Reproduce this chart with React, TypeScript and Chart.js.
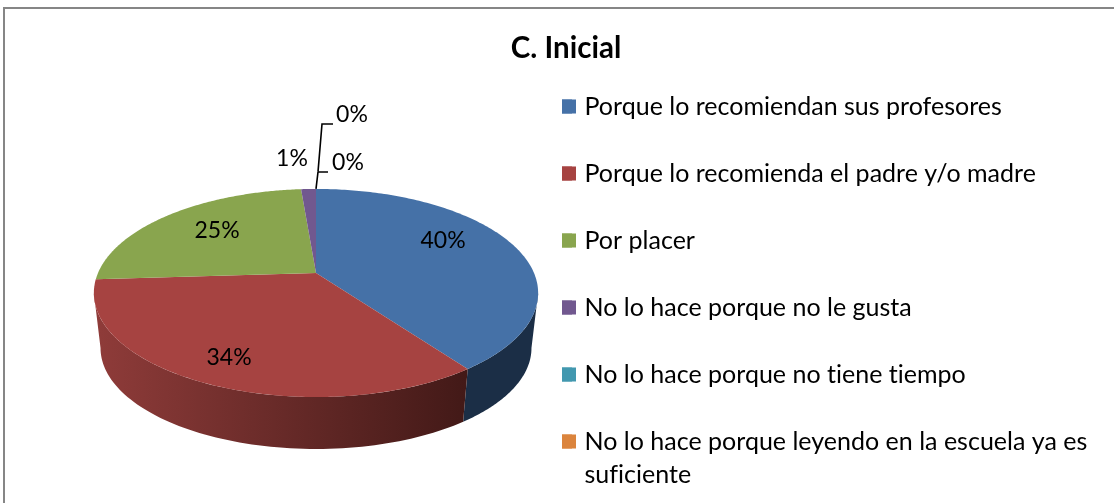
import React, { useEffect, useRef } from "react";
import { Chart, registerables } from "chart.js";

Chart.register(...registerables);

const chartTitle = "C. Inicial";
const categories = [
  "Porque lo recomiendan sus profesores",
  "Porque lo recomienda el padre y/o madre",
  "Por placer",
  "No lo hace porque no le gusta",
  "No lo hace porque no tiene tiempo",
  ["No lo hace porque leyendo en la escuela ya es", "suficiente"],
];
const values = [40, 34, 24.7, 1.3, 0, 0];
const valueLabels = ["40%", "34%", "25%", "1%", "0%", "0%"];
const topColors = ["#4571A7", "#A64341", "#89A54E", "#71588F", "#4298AF", "#DB843D"];
const FONT = "Lato, Carlito, Calibri, sans-serif";

// Perspective of the tilted disc
const CX = 316;
const CY = 273;
const KX = 218;
const KY = 100.2;
const PERSP = 0.192;
const WALL_SCALE = 0.97;
const WALL_CENTER_FROM = 293;
const WALL_CENTER_TO = 348.1;
const SILHOUETTE_ANGLE = 0.193;

const project = (angle: number, r = 1) => {
  // Chart.js angle: -PI/2 is the top of the pie
  const u = Math.cos(angle) * r;
  const v = Math.sin(angle) * r;
  const d = 1 - PERSP * v;
  return { x: CX + (KX * u) / d, y: CY + (KY * v) / d };
};
const lower = (p: { x: number; y: number }) => ({
  x: CX + WALL_SCALE * (p.x - CX),
  y: WALL_CENTER_TO + WALL_SCALE * (p.y - WALL_CENTER_FROM),
});

const disc3d = {
  id: "disc3d",
  afterLayout(chart: any) {
    const legend = chart.legend;
    const w = legend.right - legend.left;
    legend.left = 520;
    legend.right = 520 + w;
    legend.top = 52;
    legend.bottom = 500;
    const t = chart.titleBlock;
    const h = t.bottom - t.top;
    t.left = 0;
    t.right = 1132;
    t.top = 30.3;
    t.bottom = 30.3 + h;
  },
  beforeDatasetDraw(chart: any) {
    const ctx = chart.ctx;
    const arcs = chart.getDatasetMeta(0).data;
    const wallFill = (i: number) => {
      if (i === 0) return "#1B2E46";
      const g = ctx.createLinearGradient(100, 0, 470, 0);
      g.addColorStop(0, "#8E3B39");
      g.addColorStop(0.5, "#672A28");
      g.addColorStop(1, "#421917");
      return g;
    };
    // side wall, only the front half of the disc shows it
    arcs.forEach((arc: any, i: number) => {
      const a0 = Math.max(arc.startAngle, SILHOUETTE_ANGLE);
      const a1 = Math.min(arc.endAngle, Math.PI - SILHOUETTE_ANGLE);
      if (a1 <= a0) return;
      const N = 80;
      ctx.beginPath();
      for (let k = 0; k <= N; k++) {
        const p = project(a0 + ((a1 - a0) * k) / N);
        k ? ctx.lineTo(p.x, p.y) : ctx.moveTo(p.x, p.y);
      }
      for (let k = N; k >= 0; k--) {
        const p = lower(project(a0 + ((a1 - a0) * k) / N));
        ctx.lineTo(p.x, p.y);
      }
      ctx.closePath();
      ctx.fillStyle = wallFill(i);
      ctx.fill();
    });
    // top face
    arcs.forEach((arc: any, i: number) => {
      if (arc.endAngle - arc.startAngle <= 0) return;
      const N = 160;
      ctx.beginPath();
      ctx.moveTo(CX, CY);
      for (let k = 0; k <= N; k++) {
        const p = project(arc.startAngle + ((arc.endAngle - arc.startAngle) * k) / N);
        ctx.lineTo(p.x, p.y);
      }
      ctx.closePath();
      ctx.fillStyle = topColors[i];
      ctx.fill();
    });
    return false;
  },
  afterDatasetsDraw(chart: any) {
    const ctx = chart.ctx;
    const arcs = chart.getDatasetMeta(0).data;
    const base = project(arcs[4].startAngle);
    ctx.save();
    ctx.strokeStyle = "#000";
    ctx.lineWidth = 1.6;
    ctx.beginPath();
    ctx.moveTo(base.x, base.y);
    ctx.lineTo(base.x + 2, base.y - 17);
    ctx.lineTo(base.x + 12, base.y - 17);
    ctx.moveTo(base.x + 2, base.y - 17);
    ctx.lineTo(base.x + 6, base.y - 65);
    ctx.lineTo(base.x + 17, base.y - 65);
    ctx.stroke();
    ctx.fillStyle = "#000";
    ctx.font = `23px ${FONT}`;
    ctx.textAlign = "center";
    ctx.textBaseline = "middle";
    const spots = [
      [443, 241],
      [229, 358],
      [217, 231],
      [292, 159],
      [348, 163],
      [352, 115],
    ];
    valueLabels.forEach((t, i) => ctx.fillText(t, spots[i][0], spots[i][1]));
    ctx.restore();
  },
  beforeDraw(chart: any) {
    const ctx = chart.ctx;
    // a tiny spacing turns off the Lato "ti" and "fi" ligatures
    ctx.letterSpacing = "0.01px";
    ctx.save();
    ctx.fillStyle = "#fff";
    ctx.fillRect(0, 0, chart.width, chart.height);
    ctx.strokeStyle = "#868686";
    ctx.lineWidth = 2;
    ctx.beginPath();
    ctx.moveTo(4, 503);
    ctx.lineTo(4, 8);
    ctx.lineTo(1114, 8);
    ctx.stroke();
    ctx.restore();
  },
  afterDraw(chart: any) {
    // widen the legend swatches to full size; the narrow box only sets the text gap
    const ctx = chart.ctx;
    const boxes = chart.legend.legendHitBoxes;
    ctx.save();
    boxes.forEach((b: any, i: number) => {
      ctx.fillStyle = topColors[i];
      ctx.fillRect(b.left, b.top + 5.5, 14, 14);
    });
    ctx.restore();
  },
};

export default function App() {
  const ref = useRef<HTMLCanvasElement>(null);
  useEffect(() => {
    const chart = new Chart(ref.current as HTMLCanvasElement, {
      type: "pie",
      data: {
        labels: categories as any,
        datasets: [{ data: values, backgroundColor: topColors, borderWidth: 0 }],
      },
      options: {
        animation: false,
        responsive: false,
        rotation: 0,
        plugins: {
          title: {
            display: true,
            text: chartTitle,
            color: "#000",
            font: { family: FONT, size: 29.5, weight: "bold" },
            padding: 0,
          },
          legend: {
            position: "right",
            align: "start",
            maxWidth: 600,
            labels: {
              color: "#000",
              font: { family: FONT, size: 25, lineHeight: 1.32 },
              boxWidth: 10,
              boxHeight: 14,
              padding: 42,
            },
          },
          tooltip: { enabled: false },
        },
      } as any,
      plugins: [disc3d],
    });
    return () => chart.destroy();
  }, []);
  return (
    <div style={{ position: "absolute", left: 0, top: 0, width: 1114, height: 503 }}>
      <canvas ref={ref} width={1114} height={503} style={{ display: "block" }} />
    </div>
  );
}
